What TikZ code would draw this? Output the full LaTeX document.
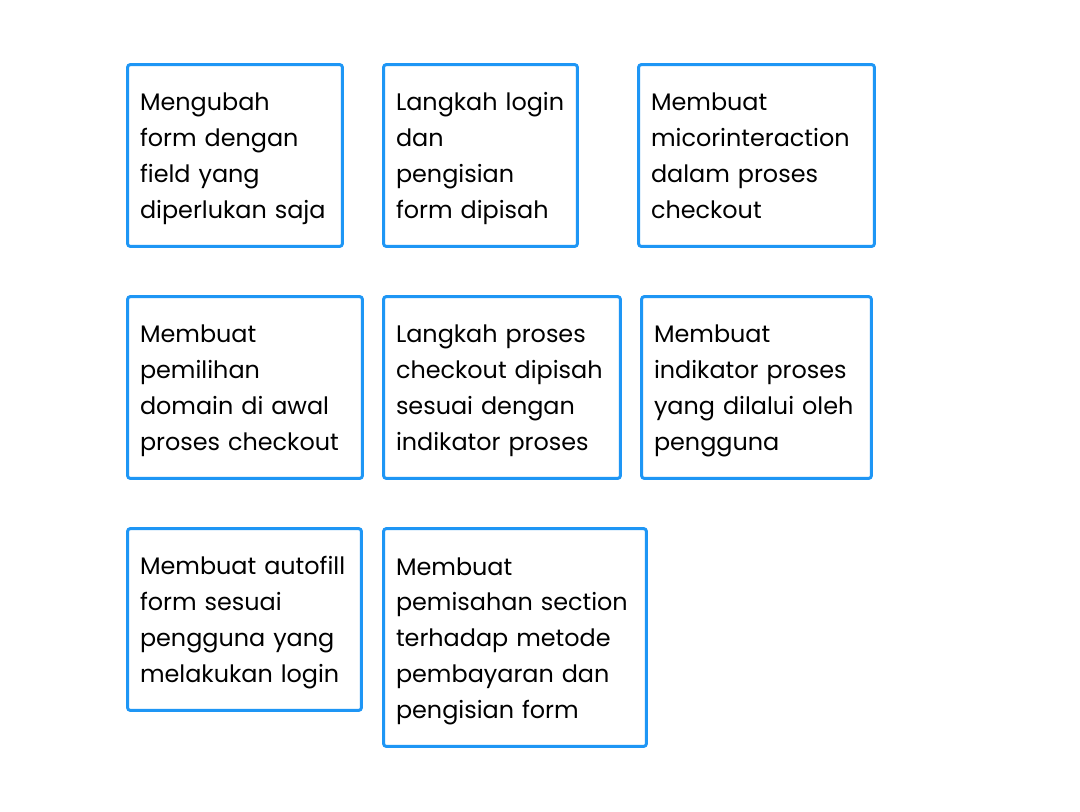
\documentclass[tikz,border=0pt]{standalone}
\usepackage{fontspec}
\setmainfont{Poppins}
\definecolor{boxblue}{HTML}{1E96F5}
\tikzset{
	idea/.style={draw=boxblue, line width=1.7pt, rounded corners=0.06cm, fill=white,
		align=left, inner xsep=0.25cm, inner ysep=0pt, minimum height=3.64cm,
		font=\fontsize{13.6pt}{20.4pt}\selectfont,
		execute at begin node={\hyphenpenalty=10000\hbadness=10000\rule{0pt}{16.6pt}},
		execute at end node={\strut}}
}
\begin{document}
\begin{tikzpicture}[x=0.02cm, y=-0.02cm]
		\useasboundingbox (0,0) rectangle (1080,812);

		% baris pertama
		\node[idea, text width=3.8cm, minimum width=4.3cm] (form) at (235,155.5) {Mengubah\\form dengan\\field yang\\diperlukan~saja};
		\node[idea, text width=3.38cm, minimum width=3.88cm] (login) at (480.5,155.5) {Langkah~login\\dan\\pengisian\\form dipisah};
		\node[idea, text width=4.22cm, minimum width=4.72cm] (micro) at (756.5,155.5) {Membuat\\micorinteraction\\dalam proses\\checkout};

		% baris kedua
		\node[idea, text width=4.2cm, minimum width=4.7cm] (domain) at (245,387.5) {Membuat\\pemilihan\\domain di awal\\proses~checkout};
		\node[idea, text width=4.24cm, minimum width=4.74cm] (langkah) at (502,387.5) {Langkah proses\\checkout~dipisah\\sesuai dengan\\indikator~proses};
		\node[idea, text width=4.1cm, minimum width=4.6cm] (indikator) at (756.5,387.5) {Membuat\\indikator~proses\\yang dilalui~oleh\\pengguna};

		% baris ketiga
		\node[idea, text width=4.18cm, minimum width=4.68cm] (autofill) at (244.5,619.5) {Membuat~autofill\\form sesuai\\pengguna~yang\\melakukan~login};
		\node[idea, text width=4.76cm, minimum width=5.26cm, minimum height=4.36cm] (section) at (515,637.5) {Membuat\\pemisahan~section\\terhadap metode\\pembayaran~dan\\pengisian form};
	\end{tikzpicture}
\end{document}
